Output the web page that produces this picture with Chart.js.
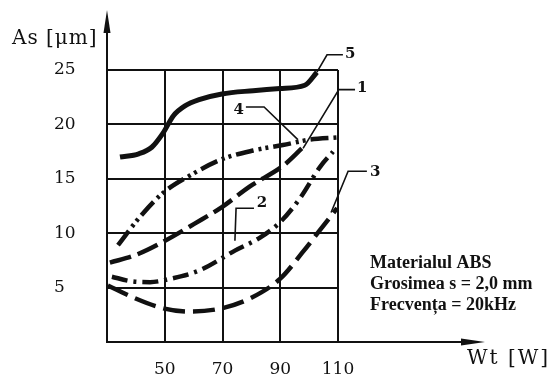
<!DOCTYPE html>
<html>
<head>
<meta charset="utf-8">
<script src="https://cdn.jsdelivr.net/npm/chart.js@4.4.0/dist/chart.umd.min.js"></script>
<style>
  html, body { margin: 0; padding: 0; background: #fff; }
  canvas { display: block; }
</style>
</head>
<body>
<canvas id="chart" width="555" height="376"></canvas>
<script>
// Valori: As [um] in functie de Wt [W]
const curve1X = [31, 40, 49.4, 60.5, 69.8, 79.5, 91, 97.5];
const curve1Y = [7.3, 8.0, 9.2, 10.9, 12.4, 14.3, 16.2, 17.8];

const curve2X = [31.7, 38, 44.9, 51.8, 62.2, 74.3, 83, 89.9, 96.8, 103.8, 108.3];
const curve2Y = [6.0, 5.6, 5.5, 5.8, 6.6, 8.4, 9.6, 11.0, 13.2, 16.1, 17.5];

const curve3X = [30.3, 39, 49.4, 58.7, 69.8, 79.5, 89.9, 97.9, 103.8, 109.7];
const curve3Y = [5.2, 4.1, 3.1, 2.8, 3.1, 4.0, 5.8, 8.3, 10.3, 12.3];

const curve4X = [33.8, 41.4, 49.4, 58.7, 69.8, 80.6, 90.9, 100.3, 109.7];
const curve4Y = [8.9, 11.5, 13.7, 15.3, 16.8, 17.6, 18.1, 18.6, 18.8];

const curve5X = [34.5, 41, 45.5, 49.4, 53, 57, 62.2, 69.8, 80.6, 89.9, 98.5, 102.7];
const curve5Y = [17.0, 17.3, 17.9, 19.2, 20.8, 21.7, 22.3, 22.8, 23.1, 23.3, 23.6, 24.8];

const xTicks = [50, 70, 90, 110];
const yTicks = [5, 10, 15, 20, 25];
const infoLines = ['Materialul ABS', 'Grosimea s = 2,0 mm', 'Frecvența = 20kHz'];

const toPoints = (xs, ys) => xs.map((v, i) => ({ x: v, y: ys[i] }));

function curve(label, xs, ys, dash, width) {
    return {
        label: label,
        data: toPoints(xs, ys),
        borderColor: '#111',
        borderWidth: width,
        borderDash: dash,
        borderCapStyle: 'butt',
        pointRadius: 0,
        fill: false,
        cubicInterpolationMode: 'monotone'
    };
}

// Sagetile axelor, etichetele curbelor si textul explicativ
const extras = {
    id: 'extras',
    afterDraw(chart) {
        const { ctx, chartArea: a, scales: { x, y } } = chart;
        const px = v => x.getPixelForValue(v);
        const py = v => y.getPixelForValue(v);
        ctx.save();
        ctx.strokeStyle = '#111';
        ctx.fillStyle = '#111';

        // prelungirea axelor + sageti
        ctx.lineWidth = 2;
        ctx.beginPath();
        ctx.moveTo(a.left, a.top);
        ctx.lineTo(a.left, 26);
        ctx.moveTo(a.right, a.bottom);
        ctx.lineTo(468, a.bottom);
        ctx.stroke();
        ctx.beginPath();
        ctx.moveTo(a.left, 10);
        ctx.lineTo(a.left + 3.5, 33);
        ctx.lineTo(a.left - 3.5, 33);
        ctx.closePath();
        ctx.fill();
        ctx.beginPath();
        ctx.moveTo(485, a.bottom);
        ctx.lineTo(461, a.bottom - 3.5);
        ctx.lineTo(461, a.bottom + 3.5);
        ctx.closePath();
        ctx.fill();

        // titluri axe
        ctx.font = '20px "DejaVu Serif"';
        ctx.textBaseline = 'alphabetic';
        ctx.textAlign = 'left';
        ctx.letterSpacing = '1px';
        ctx.fillText('As [μm]', 12, 44);
        ctx.letterSpacing = '2px';
        ctx.fillText('Wt [W]', 467, 364);
        ctx.letterSpacing = '0px';

        // linii de indicatie catre curbe
        const leaders = [
            { text: '5', path: [[102.7, 24.8], [106.2, 26.4], [111.7, 26.4]], at: [112.4, 26.1], align: 'left' },
            { text: '1', path: [[97.9, 17.8], [110.3, 23.2], [115.9, 23.2]], at: [116.6, 23.0], align: 'left' },
            { text: '4', path: [[96.1, 18.6], [84.4, 21.6], [78.1, 21.6]], at: [77.4, 21.0], align: 'right' },
            { text: '2', path: [[74.3, 9.3], [74.7, 12.3], [80.9, 12.3]], at: [81.9, 12.4], align: 'left' },
            { text: '3', path: [[107.6, 11.9], [113.5, 15.7], [120.0, 15.7]], at: [121.1, 15.3], align: 'left' }
        ];
        ctx.lineWidth = 1.6;
        ctx.font = 'bold 15px "DejaVu Serif"';
        leaders.forEach(l => {
            ctx.beginPath();
            l.path.forEach((p, i) => i ? ctx.lineTo(px(p[0]), py(p[1])) : ctx.moveTo(px(p[0]), py(p[1])));
            ctx.stroke();
            ctx.textAlign = l.align;
            ctx.fillText(l.text, px(l.at[0]), py(l.at[1]));
        });

        // textul cu parametrii
        ctx.font = 'bold 18px "Liberation Serif"';
        ctx.textAlign = 'left';
        infoLines.forEach((t, i) => ctx.fillText(t, 370, 268 + i * 21));
        ctx.restore();
    }
};

new Chart(document.getElementById('chart').getContext('2d'), {
    type: 'line',
    data: {
        datasets: [
            curve('5', curve5X, curve5Y, [], 5),
            curve('4', curve4X, curve4Y, [18, 5, 3, 4, 3, 5], 4.5),
            curve('1', curve1X, curve1Y, [22, 7], 4.5),
            curve('2', curve2X, curve2Y, [16, 6, 3, 6], 4.5),
            curve('3', curve3X, curve3Y, [22, 8], 4.5)
        ]
    },
    options: {
        responsive: false,
        animation: false,
        layout: { padding: { left: 54, top: 70, right: 217, bottom: 0 } },
        plugins: { legend: { display: false }, tooltip: { enabled: false } },
        scales: {
            x: {
                type: 'linear',
                min: 30,
                max: 110,
                afterFit: s => { s.height = 34; },
                afterBuildTicks: s => { s.ticks = [30].concat(xTicks).map(v => ({ value: v })); },
                grid: { color: '#111', lineWidth: 2, drawTicks: false },
                border: { color: '#111', width: 2 },
                ticks: {
                    autoSkip: false,
                    maxRotation: 0,
                    padding: 17,
                    color: '#111',
                    font: { family: 'DejaVu Serif', size: 17 },
                    callback: v => xTicks.includes(v) ? String(v) : ''
                }
            },
            y: {
                min: 0,
                max: 25,
                afterFit: s => { s.width = 53; },
                afterBuildTicks: s => { s.ticks = [0].concat(yTicks).map(v => ({ value: v })); },
                grid: { color: '#111', lineWidth: 2, drawTicks: false },
                border: { color: '#111', width: 2 },
                ticks: {
                    crossAlign: 'far',
                    padding: 0,
                    color: '#111',
                    font: { family: 'DejaVu Serif', size: 17 },
                    callback: v => yTicks.includes(v) ? String(v) : ''
                }
            }
        }
    },
    plugins: [extras]
});
</script>
</body>
</html>
